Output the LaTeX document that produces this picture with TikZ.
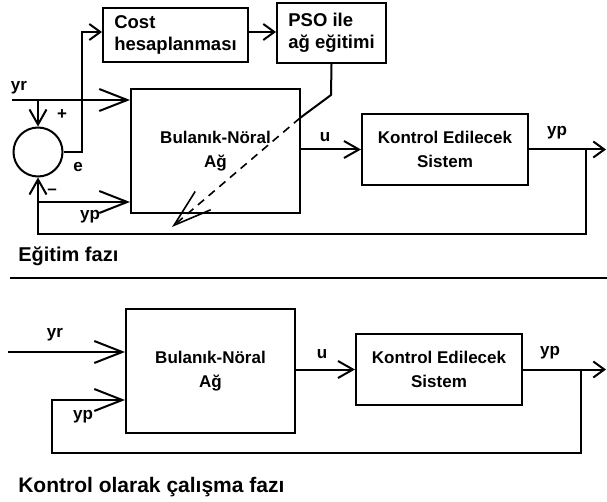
\documentclass[tikz,border=0pt]{standalone}
\usepackage{fontspec}
\setmainfont{Liberation Sans}
\usetikzlibrary{arrows.meta,positioning,calc}

\begin{document}
\begin{tikzpicture}[x=1pt,y=-1pt,line width=2pt,
  blok/.style={draw,rectangle,inner sep=0pt,font=\fontsize{17}{24}\selectfont\bfseries,align=center},
  ince/.style={draw,rectangle,inner sep=0pt,font=\fontsize{18.5}{22}\selectfont\bfseries,align=left},
  etiket/.style={font=\fontsize{17}{18}\selectfont\bfseries,inner sep=0pt},
  buyuk/.style={-{Straight Barb[length=28pt,width=22pt]}},
  orta/.style={-{Straight Barb[length=15pt,width=17pt]}},
  kucuk/.style={-{Straight Barb[length=11pt,width=16pt]}}]
\useasboundingbox (0,0) rectangle (607,502);
% egitim fazi
\node[ince,minimum width=145pt,minimum height=54pt] (cost) at (175.5,35) {Cost\\hesaplanması};
\node[ince,minimum width=109pt,minimum height=60pt] (pso) at (331.5,33) {PSO ile\\ağ eğitimi};
\node[blok,minimum width=169pt,minimum height=124pt] (bn1) at (215.5,151) {Bulanık-Nöral\\Ağ};
\node[blok,minimum width=166pt,minimum height=71pt] (sis1) at (445,149.5) {Kontrol Edilecek\\Sistem};
\node[draw,circle,minimum size=49pt,inner sep=0pt] (sum) at (38,152) {};
\coordinate (yr1) at (12,100);
\coordinate (yrdal) at (38,100);
\coordinate (edon) at (82,152);
\coordinate (cgir) at ([yshift=3pt]cost.west);
\coordinate (ccik) at ([yshift=3pt]cost.east);
\coordinate (dal1) at (586,149.5);
\coordinate (cikis1) at (606,149.5);
\coordinate (geri1) at (38,234);
\coordinate (ypdal1) at (38,202);
\coordinate (kirik) at (331,95);
\coordinate (giris) at (300,118);
\coordinate (uc) at (172,227);
\path[buyuk]
(yr1) edge (yr1 -| bn1.west)
(ypdal1) edge (ypdal1 -| bn1.west)
;
\path[orta]
(yrdal) edge (sum.north)
(bn1.east |- sis1.west) edge (sis1.west)
;
\path[kucuk]
(ccik) edge (ccik -| pso.west)
(sis1.east) edge (cikis1)
;
\draw[kucuk] (sum.east) -- (edon) |- (cgir);
\draw[orta] (dal1) |- (geri1) -- (sum.south);
\draw (pso.south) -- (kirik) -- (giris);
\draw[line width=1.6pt,dash pattern=on 8pt off 6pt,-{Straight Barb[length=38pt,width=24pt]}] (giris) -- (uc);
\node[etiket] (lyr1) at (19,88) {yr};
\node[etiket] (lart) at (62,115) {+};
\node[etiket] (le) at (78,167) {e};
\node[etiket] (leksi) at (52,192) {\textendash};
\node[etiket] (lyp1) at (90,217) {yp};
\node[etiket] (lu1) at (325,137) {u};
\node[etiket] (lyp2) at (557,133) {yp};
\node[anchor=west,font=\fontsize{20}{22}\selectfont\bfseries] (faz1) at (14,256) {Eğitim fazı};
\coordinate (ayirA) at (10,278);
\coordinate (ayirB) at (607,278);
\draw (ayirA) -- (ayirB);
% kontrolor olarak calisma fazi
\node[blok,minimum width=169pt,minimum height=124pt] (bn2) at (210.5,371) {Bulanık-Nöral\\Ağ};
\node[blok,minimum width=166pt,minimum height=71pt] (sis2) at (439,369.5) {Kontrol Edilecek\\Sistem};
\coordinate (yr2) at (8,352);
\coordinate (dal2) at (581,369.5);
\coordinate (cikis2) at (606,369.5);
\coordinate (geri2) at (52,453);
\coordinate (ypgir2) at (52,400);
\path[buyuk]
(yr2) edge (yr2 -| bn2.west)
;
\path[orta]
(bn2.east |- sis2.west) edge (sis2.west)
;
\draw[kucuk] (sis2.east) -- (cikis2);
\draw[buyuk] (dal2) |- (geri2) -- (ypgir2) -- (ypgir2 -| bn2.west);
\node[etiket] (lyr3) at (55,335) {yr};
\node[etiket] (lyp3) at (83,417) {yp};
\node[etiket] (lu2) at (322,354) {u};
\node[etiket] (lyp4) at (550,353) {yp};
\node[anchor=west,font=\fontsize{21}{24}\selectfont\bfseries] (faz2) at (14,487) {Kontrol olarak çalışma fazı};
\end{tikzpicture}
\end{document}
